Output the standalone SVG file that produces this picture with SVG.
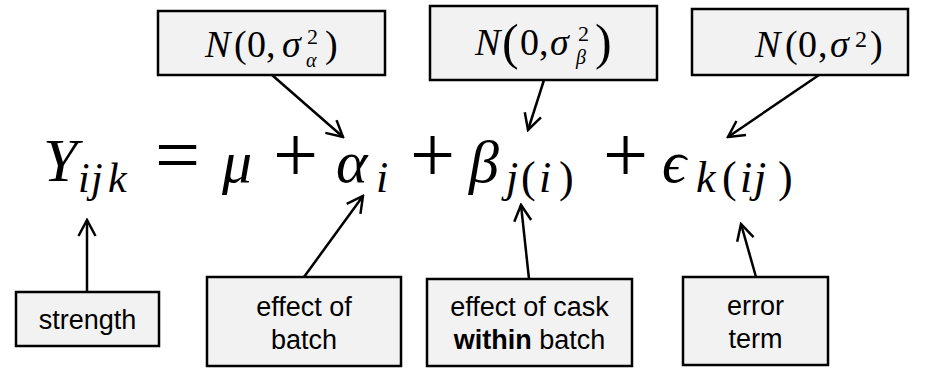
<svg xmlns="http://www.w3.org/2000/svg" width="929" height="370" viewBox="0 0 929 370">
<style>
.box{fill:#f2f2f2;stroke:#000;stroke-width:2.5}
.lbl{font-family:"Liberation Sans",Arial,sans-serif;font-size:27px;fill:#000;text-anchor:middle}
.math{font-family:"Liberation Serif","DejaVu Serif",serif;fill:#000}
.i{font-style:italic}
.conn line{stroke:#000;stroke-width:2.5;fill:none}
</style>
<defs>
<marker id="arr" viewBox="0 0 20 20" refX="18" refY="10" markerWidth="20" markerHeight="20" markerUnits="userSpaceOnUse" orient="auto">
<path d="M2,1.5 L18,10 L2,18.5" fill="none" stroke="#000" stroke-width="2.5"/>
</marker>
</defs>
<rect width="929" height="370" fill="#fff"/>

<g id="eq">
<text class="math"><tspan class="i" x="43" y="181" font-size="62">Y</tspan><tspan class="i" x="78" y="192" font-size="42">i</tspan><tspan class="i" x="91" y="192" font-size="42">j</tspan><tspan class="i" x="108" y="192" font-size="42">k</tspan><tspan x="155" y="182" font-size="80">=</tspan><tspan class="i" x="222" y="182" font-size="60">μ</tspan><tspan x="273" y="182" font-size="80">+</tspan><tspan class="i" x="336" y="182" font-size="60">α</tspan><tspan class="i" x="376" y="192" font-size="44">i</tspan><tspan x="410" y="182" font-size="80">+</tspan><tspan class="i" x="469" y="182" font-size="60">β</tspan><tspan class="i" x="506" y="192" font-size="44">j</tspan><tspan x="521" y="192" font-size="44">(</tspan><tspan class="i" x="539" y="192" font-size="44">i</tspan><tspan x="559" y="192" font-size="44">)</tspan><tspan x="603" y="182" font-size="80">+</tspan><tspan class="i" x="662" y="182" font-size="60">ϵ</tspan><tspan class="i" x="696" y="192" font-size="44">k</tspan><tspan x="722" y="192" font-size="44">(</tspan><tspan class="i" x="740" y="192" font-size="44">i</tspan><tspan class="i" x="754" y="192" font-size="44">j</tspan><tspan x="778" y="192" font-size="44">)</tspan></text>
</g>

<g id="dist-alpha">
<rect class="box" x="158" y="11" width="227" height="64"/>
<text class="math" font-size="38"><tspan class="i" x="205" y="57">N</tspan><tspan x="234" y="57">(</tspan><tspan x="247" y="57">0</tspan><tspan x="266" y="57">,</tspan><tspan class="i" x="282" y="57">σ</tspan><tspan x="307" y="44" font-size="22">2</tspan><tspan class="i" x="306" y="66.5" font-size="20">α</tspan><tspan x="325" y="57">)</tspan></text>
</g>

<g id="dist-beta">
<rect class="box" x="430" y="6" width="227" height="74"/>
<text class="math" font-size="38"><tspan class="i" x="475" y="55">N</tspan><tspan x="502" y="59" font-size="50">(</tspan><tspan x="520" y="55">0</tspan><tspan x="539" y="55">,</tspan><tspan class="i" x="550" y="55">σ</tspan><tspan x="578" y="41" font-size="22">2</tspan><tspan class="i" x="576" y="63.6" font-size="20">β</tspan><tspan x="595" y="59" font-size="50">)</tspan></text>
</g>

<g id="dist-eps">
<rect class="box" x="692" y="9" width="216" height="66"/>
<text class="math" font-size="38"><tspan class="i" x="755" y="57">N</tspan><tspan x="785" y="57">(</tspan><tspan x="798" y="57">0</tspan><tspan x="818" y="57">,</tspan><tspan class="i" x="830" y="57">σ</tspan><tspan x="855" y="47" font-size="24">2</tspan><tspan x="870" y="57">)</tspan></text>
</g>

<g id="strength">
<rect class="box" x="16" y="292" width="143" height="54"/>
<text class="lbl" x="87.5" y="329">strength</text>
</g>

<g id="batch">
<rect class="box" x="207" y="277" width="194" height="89"/>
<text class="lbl" x="304" y="316">effect of</text>
<text class="lbl" x="304" y="349">batch</text>
</g>

<g id="cask">
<rect class="box" x="427" y="279" width="205" height="87"/>
<text class="lbl" x="529.5" y="316">effect of cask</text>
<text class="lbl" x="529.5" y="349"><tspan font-weight="bold">within</tspan> batch</text>
</g>

<g id="error">
<rect class="box" x="683" y="277" width="145" height="88"/>
<text class="lbl" x="755.5" y="315">error</text>
<text class="lbl" x="755.5" y="348">term</text>
</g>

<g class="conn" id="connectors">
<line x1="272" y1="75" x2="343" y2="137" marker-end="url(#arr)"/>
<line x1="544" y1="80" x2="528" y2="130" marker-end="url(#arr)"/>
<line x1="819" y1="75" x2="728" y2="137" marker-end="url(#arr)"/>
<line x1="87" y1="292" x2="87" y2="220" marker-end="url(#arr)"/>
<line x1="304" y1="277" x2="363" y2="196" marker-end="url(#arr)"/>
<line x1="529" y1="279" x2="521" y2="205" marker-end="url(#arr)"/>
<line x1="756" y1="277" x2="741" y2="224" marker-end="url(#arr)"/>
</g>
</svg>
